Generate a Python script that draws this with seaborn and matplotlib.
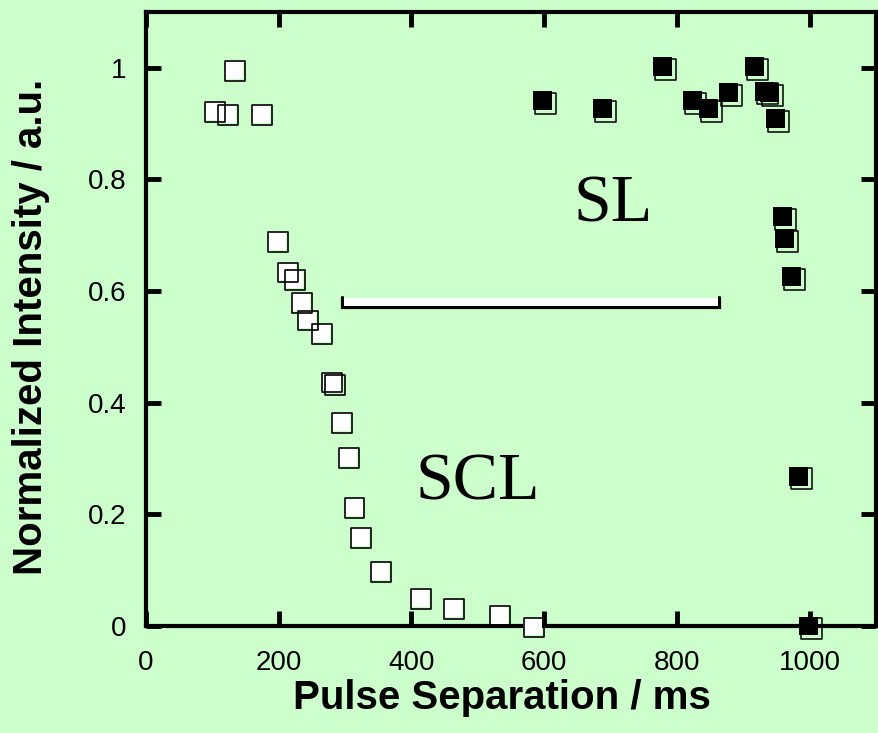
import matplotlib
matplotlib.use("Agg")
import matplotlib.pyplot as plt
from matplotlib.transforms import offset_copy
import pandas as pd
import seaborn as sns

# Supercooled-liquid signal (open squares)
scl_ms = [102, 121, 132, 172, 196, 212, 222, 233, 242, 263, 278, 282,
          293, 303, 312, 322, 352, 412, 462, 531, 582]
scl_int = [0.923, 0.918, 0.997, 0.918, 0.691, 0.636, 0.623, 0.581, 0.550,
           0.526, 0.439, 0.434, 0.366, 0.304, 0.214, 0.161, 0.100, 0.051,
           0.033, 0.020, 0.000]

# Solid signal (filled squares)
sl_ms = [598, 688, 779, 823, 848, 878, 917, 932, 940, 949, 959, 962, 973,
         983, 998]
sl_int = [0.941, 0.927, 1.002, 0.941, 0.927, 0.955, 1.002, 0.958, 0.955,
          0.909, 0.733, 0.694, 0.626, 0.268, 0.000]

# Pulse-separation window marked by the bracket
bar_ms = [296, 864]
bar_level = 0.58

x_ticks = [0, 200, 400, 600, 800, 1000]
y_ticks = [0, 0.2, 0.4, 0.6, 0.8, 1.0]
y_tick_labels = ["0", "0.2", "0.4", "0.6", "0.8", "1"]

bg = "#CCFFCC"

sns.set_theme(style="ticks")
plt.rcParams["font.family"] = ["Liberation Sans", "DejaVu Sans"]
plt.rcParams["text.color"] = "black"
plt.rcParams["axes.labelcolor"] = "black"

fig = plt.figure(figsize=(8.79, 7.33), dpi=100, facecolor=bg)
ax = fig.add_axes([146 / 879, 1 - 626 / 733, 730 / 879, 614 / 733])
ax.set_facecolor(bg)

scl = pd.DataFrame({"ms": scl_ms, "intensity": scl_int})
sl = pd.DataFrame({"ms": sl_ms, "intensity": sl_int})

# Open squares: white body with a slightly offset black outline
sns.scatterplot(data=scl, x="ms", y="intensity", marker="s", s=185,
                color="white", edgecolor="none", linewidth=0, ax=ax,
                zorder=4, clip_on=False)
ax.scatter(scl["ms"], scl["intensity"], marker="s", s=205,
           facecolors="none", edgecolors="black", linewidths=1.2,
           transform=offset_copy(ax.transData, fig=fig, x=1.5, y=-1.5,
                                 units="dots"),
           zorder=5, clip_on=False)

# Filled squares: black body with a drop-shadow outline
ax.scatter(sl["ms"], sl["intensity"], marker="s", s=229,
           facecolors="none", edgecolors="black", linewidths=1.1,
           transform=offset_copy(ax.transData, fig=fig, x=3, y=-2.5,
                                 units="dots"),
           zorder=4, clip_on=False)
sns.scatterplot(data=sl, x="ms", y="intensity", marker="s", s=187,
                color="black", edgecolor="none", linewidth=0, ax=ax,
                zorder=5, clip_on=False)

# Bracket: black frame with a white bar on top
ax.plot([bar_ms[0], bar_ms[0], bar_ms[1], bar_ms[1]],
        [bar_level + 0.009, bar_level - 0.0085, bar_level - 0.0085,
         bar_level + 0.009],
        color="black", lw=2.3, solid_joinstyle="miter", zorder=3)
ax.plot([bar_ms[0] + 2, bar_ms[1] - 2], [bar_level + 0.001] * 2,
        color="white", lw=5.5, solid_capstyle="butt", zorder=3)

serif = ["Liberation Serif", "DejaVu Serif"]
ax.text(704, 0.754, "SL", family=serif, fontsize=49, color="black",
        ha="center", va="center")
ax.text(500, 0.256, "SCL", family=serif, fontsize=49, color="black",
        ha="center", va="center")

ax.set_xlim(0, 1100)
ax.set_ylim(0, 1.1)
ax.set_xticks(x_ticks)
ax.set_yticks(y_ticks)
ax.set_yticklabels(y_tick_labels)

for s in ax.spines.values():
    s.set_linewidth(3)
    s.set_color("black")

ax.tick_params(direction="in", length=11, width=3.5, top=True, right=True,
               labelsize=20, colors="black", labelcolor="black")
ax.tick_params(axis="x", pad=17)
ax.tick_params(axis="y", pad=14)

ax.set_xlabel("Pulse Separation / ms", fontsize=29, fontweight="bold",
              color="black")
ax.set_ylabel("Normalized Intensity / a.u.", fontsize=29, fontweight="bold",
              color="black")
ax.xaxis.set_label_coords(0.487, -0.086)
ax.yaxis.set_label_coords(-0.131, 0.487)

fig.savefig("out.png", dpi=100, facecolor=bg)
